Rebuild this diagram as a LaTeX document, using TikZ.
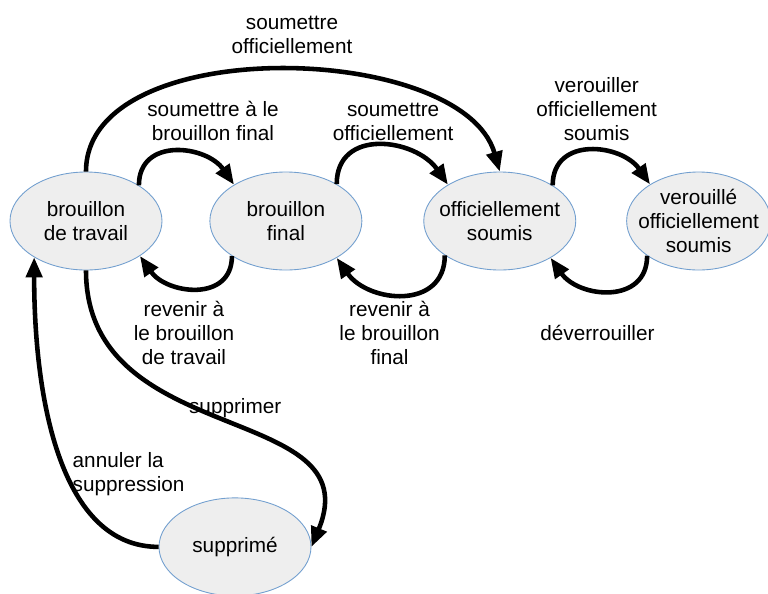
\documentclass[tikz,border=0pt]{standalone}
\usepackage{fontspec}
\setmainfont{Liberation Sans}
\usetikzlibrary{positioning,shapes.geometric,arrows.meta}
\definecolor{stateblue}{HTML}{729FCF}
\definecolor{stategrey}{HTML}{EEEEEE}

\begin{document}
\begin{tikzpicture}[
    every node/.style={font=\fontsize{11.8}{13.6}\selectfont},
    state/.style={ellipse, draw=stateblue, line width=0.5pt, fill=stategrey, align=center,
        inner xsep=-2mm, inner ysep=-1.5mm, minimum width=30.4mm, minimum height=19.6mm},
    lbl/.style={align=center, inner sep=0pt},
    trans/.style={-{Triangle[length=4mm,width=3.2mm]}, line width=2.6pt},
    loopup/.style={trans, out=90, in=125, looseness=1.3},
    loopdown/.style={trans, out=-90, in=-55, looseness=1.3}
]
    \useasboundingbox (0,0) rectangle (153.6mm,-118.6mm);

    \node[state] (travailnode) at (17.2mm,-44.2mm) {brouillon\\de travail};
    \node[state, right=9.4mm of travailnode] (finalnode) {brouillon\\final};
    \node[state, right=12.2mm of finalnode] (soumisnode) {officiellement\\soumis};
    \node[state, right=10mm of soumisnode, minimum width=28.8mm] (verrounode) {verouill\'e\\officiellement\\soumis};
    \node[state, below=45.4mm of travailnode.south, xshift=29.8mm] (supprnode) {supprim\'e};

    % forward steps
    \draw[loopup] (travailnode.34) to node[lbl, pos=0.5, xshift=7.4mm, yshift=6.2mm] (lbfinal) {soumettre \`a le\\brouillon final} (finalnode.145);
    \draw[loopup] (finalnode.36) to node[lbl, pos=0.5, xshift=2.6mm, yshift=4.8mm] (lbsoumis) {soumettre\\officiellement} (soumisnode.145);
    \draw[loopup] (soumisnode.34) to node[lbl, pos=0.5, xshift=1.2mm, yshift=8.4mm] (lbverrou) {verouiller\\officiellement\\soumis} (verrounode.143);

    % backward steps
    \draw[loopdown] (finalnode.213) to node[lbl, pos=0.5, xshift=-2.4mm, yshift=-9mm] (lbtravail) {revenir \`a\\le brouillon\\de travail} (travailnode.327);
    \draw[loopdown] (soumisnode.212) to node[lbl, pos=0.5, xshift=-2.6mm, yshift=-7.8mm] (lbretour) {revenir \`a\\le brouillon\\final} (finalnode.324);
    \draw[loopdown] (verrounode.214) to node[lbl, pos=0.5, xshift=-2.4mm, yshift=-8.6mm] (lbdeverrou) {d\'everrouiller} (soumisnode.324);

    % direct submission
    \draw[trans] (travailnode.north) .. controls +(0,28mm) and +(-7.4mm,26mm) .. node[lbl, pos=0.5, xshift=2.6mm, yshift=7mm] (lbdirect) {soumettre\\officiellement} (soumisnode.north);

    % deletion and restore
    \draw[trans] (travailnode.south) .. controls +(0,-36mm) and +(12mm,29.2mm) .. node[lbl, pos=0.5, xshift=2.8mm, yshift=2.6mm] (lbsuppr) {supprimer} (supprnode.east);
    \draw[trans] (supprnode.west) .. controls +(-19.6mm,0) and +(0,-28.4mm) .. node[lbl, align=left, pos=0.5, xshift=13.8mm, yshift=-3.8mm] (lbannul) {annuler la\\suppression} (travailnode.215);

\end{tikzpicture}
\end{document}
